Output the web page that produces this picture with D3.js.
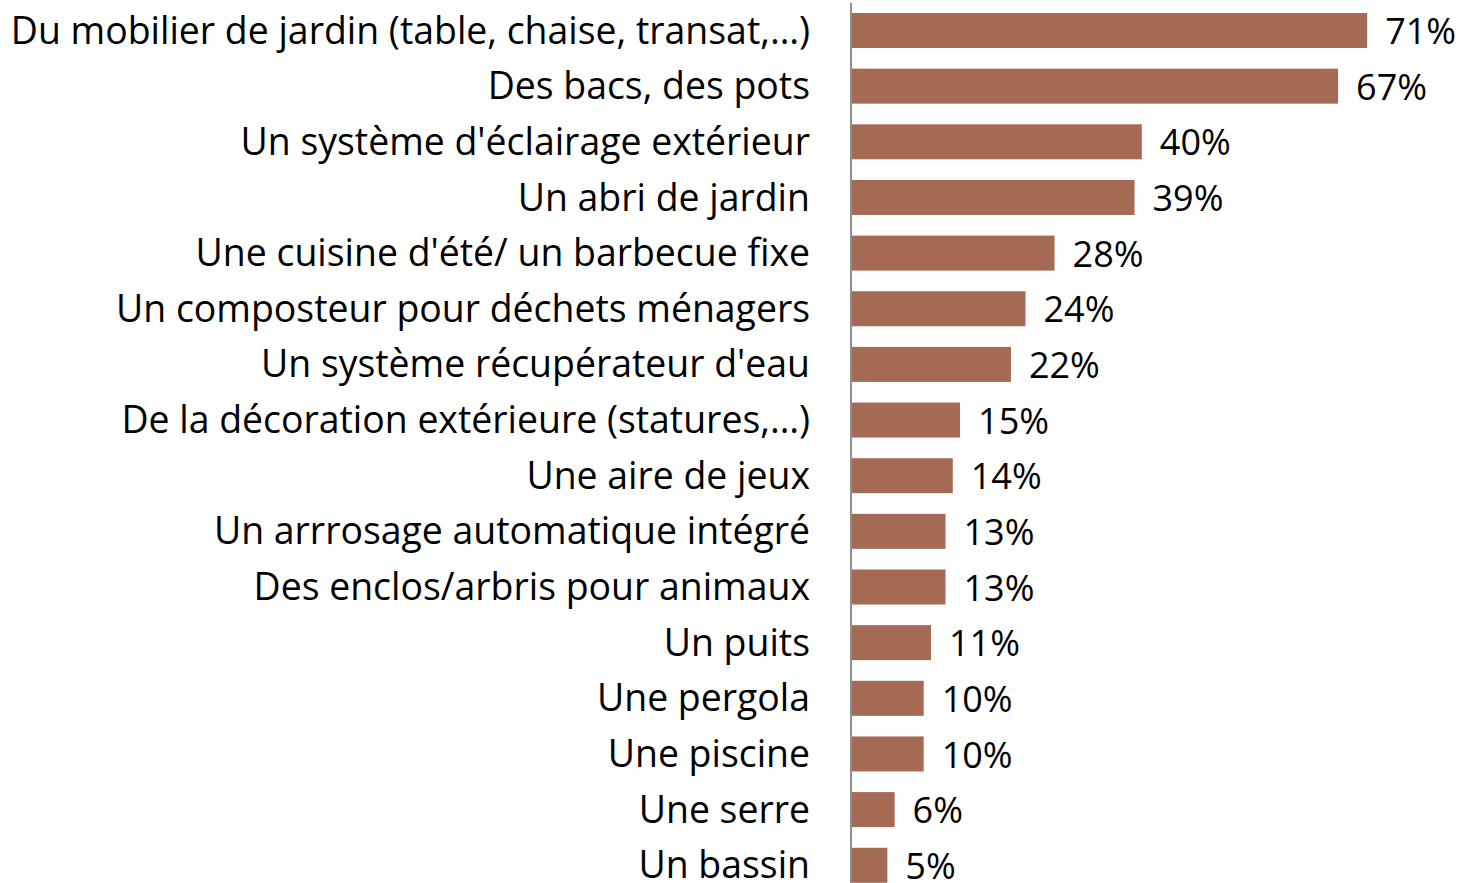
<!DOCTYPE html>
<html>
<head>
<meta charset="utf-8">
<script src="https://cdn.jsdelivr.net/npm/d3@7"></script>
<style>
  body { margin: 0; background: #fff; }
  svg { display: block; }
</style>
</head>
<body>
<div id="chart"></div>
<script>
/* Daten */
var categories = [
  "Du mobilier de jardin (table, chaise, transat,…)",
  "Des bacs, des pots",
  "Un système d'éclairage extérieur",
  "Un abri de jardin",
  "Une cuisine d'été/ un barbecue fixe",
  "Un composteur pour déchets ménagers",
  "Un système récupérateur d'eau",
  "De la décoration extérieure (statures,…)",
  "Une aire de jeux",
  "Un arrrosage automatique intégré",
  "Des enclos/arbris pour animaux",
  "Un puits",
  "Une pergola",
  "Une piscine",
  "Une serre",
  "Un bassin"
];
var values = [71, 67, 40, 39, 28, 24, 22, 15, 14, 13, 13, 11, 10, 10, 6, 5];
var valueLabels = ["71%", "67%", "40%", "39%", "28%", "24%", "22%", "15%", "14%", "13%", "13%", "11%", "10%", "10%", "6%", "5%"];

var width = 1463, height = 883;
var axisX = 851;
var fontFamily = "'Open Sans', 'Noto Sans', sans-serif";

var svg = d3.select("#chart").append("svg").attr("width", width).attr("height", height);

var x = d3.scaleLinear().domain([0, 100]).range([axisX, axisX + 727]);
var y = d3.scaleBand().domain(categories).range([-7.65, 903.4]).padding(0.371);

var rows = categories.map(function(c, i) { return {name: c, value: values[i], label: valueLabels[i]}; });

/* Balken */
svg.append("g").selectAll("rect").data(rows).enter().append("rect")
  .attr("x", x(0))
  .attr("y", function(d) { return y(d.name); })
  .attr("width", function(d) { return x(d.value) - x(0); })
  .attr("height", y.bandwidth())
  .attr("fill", "#a46a54");

/* Achse */
svg.append("line").attr("x1", axisX).attr("x2", axisX).attr("y1", 3).attr("y2", height)
  .attr("stroke", "#8f8f8f").attr("stroke-width", 2);

/* Beschriftung links */
svg.append("g").selectAll("text").data(rows).enter().append("text")
  .attr("x", 810)
  .attr("y", function(d) { return y(d.name) + y.bandwidth() / 2; })
  .attr("dy", "0.35em")
  .attr("text-anchor", "end")
  .attr("font-family", fontFamily).attr("font-size", "37.4px").attr("fill", "#000")
  .text(function(d) { return d.name; });

/* Werte */
svg.append("g").selectAll("text").data(rows).enter().append("text")
  .attr("x", function(d) { return x(d.value) + 18; })
  .attr("y", function(d) { return y(d.name) + y.bandwidth() / 2 + 1; })
  .attr("dy", "0.35em")
  .attr("font-family", fontFamily).attr("font-size", "36px").attr("fill", "#000")
  .text(function(d) { return d.label; });
</script>
</body>
</html>
